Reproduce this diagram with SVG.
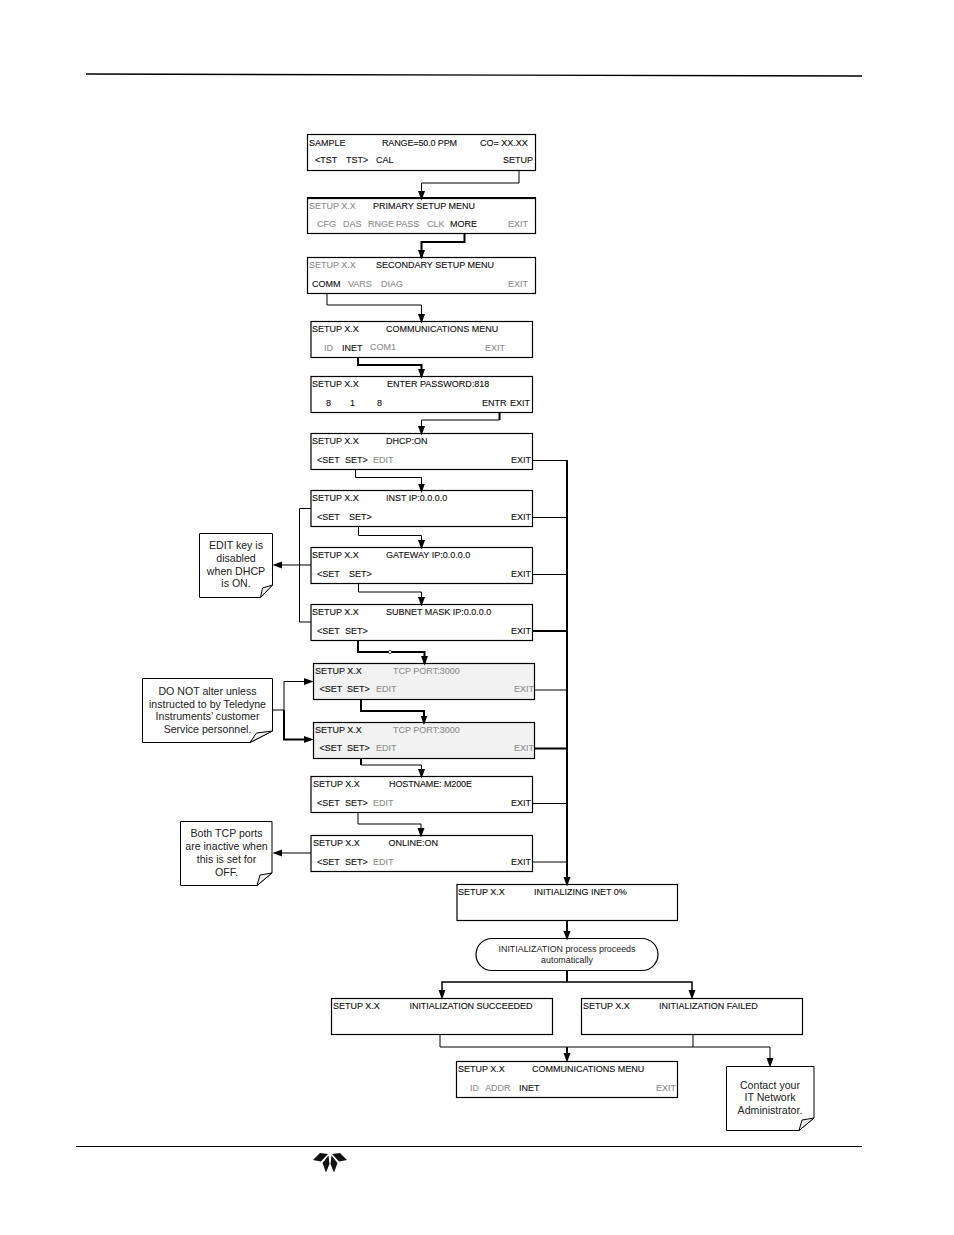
<svg xmlns="http://www.w3.org/2000/svg" width="954" height="1235" viewBox="0 0 954 1235">
<style>
text{font-family:"Liberation Sans",Arial,sans-serif;font-size:9px;fill:#111;stroke:#111;stroke-width:.12}
text.g{fill:#8f8f8f;stroke:#8f8f8f}
text.n{font-size:10.6px;text-anchor:middle;fill:#222;stroke:none}
text.p{font-size:8.9px;text-anchor:middle;fill:#222;stroke:none}
.b{fill:#fff;stroke:#000;stroke-width:1.2}
.s{fill:#f2f2f2;stroke:#000;stroke-width:1.2}
.note{fill:#fff;stroke:#000;stroke-width:1}
.fold{fill:#eee;stroke:#000;stroke-width:1}
.c{fill:none;stroke:#000;stroke-width:1}
.t{fill:none;stroke:#000;stroke-width:2}
.m{fill:none;stroke:#000;stroke-width:1.5}
</style>
<defs>
<marker id="a" markerUnits="userSpaceOnUse" markerWidth="11" markerHeight="9" refX="7" refY="3.500" orient="auto"><path d="M0 0L9.500 3.500L0 7z" fill="#000"/></marker>
</defs>
<g id="rules">
<line x1="86" y1="74" x2="862" y2="76" stroke="#000" stroke-width="1.4"/>
<line x1="76" y1="1146.500" x2="862" y2="1146.500" stroke="#000" stroke-width="1"/>
</g>
<g id="n1"><rect class="b" x="307.500" y="134.500" width="228" height="36"/><text x="309" y="146">SAMPLE</text><text x="382" y="146" textLength="75">RANGE=50.0 PPM</text><text x="480" y="146">CO= XX.XX</text><text x="315" y="163">&lt;TST</text><text x="346" y="163">TST&gt;</text><text x="376" y="163">CAL</text><text x="503" y="163">SETUP</text></g>
<g id="n2"><rect class="b" x="307.500" y="198.500" width="228" height="35"/><line x1="307" y1="198" x2="536" y2="198" stroke="#000" stroke-width="2"/><text class="g" x="309" y="209">SETUP X.X</text><text x="373" y="209">PRIMARY SETUP MENU</text><text class="g" x="317" y="227">CFG</text><text class="g" x="343" y="227">DAS</text><text class="g" x="368" y="227">RNGE</text><text class="g" x="396" y="227">PASS</text><text class="g" x="427" y="227">CLK</text><text x="450" y="227">MORE</text><text class="g" x="508" y="227">EXIT</text></g>
<g id="n3"><rect class="b" x="307.500" y="257.500" width="228" height="36"/><text class="g" x="309" y="268">SETUP X.X</text><text x="376" y="268">SECONDARY SETUP MENU</text><text x="312" y="287">COMM</text><text class="g" x="348" y="287">VARS</text><text class="g" x="381" y="287">DIAG</text><text class="g" x="508" y="287">EXIT</text></g>
<g id="n4"><rect class="b" x="311" y="321.500" width="221.500" height="36"/><text x="312" y="332">SETUP X.X</text><text x="386" y="332">COMMUNICATIONS MENU</text><text class="g" x="324" y="351">ID</text><text x="342" y="351">INET</text><text class="g" x="370" y="350">COM1</text><text class="g" x="485" y="351">EXIT</text></g>
<g id="n5"><rect class="b" x="311" y="376.500" width="221.500" height="36"/><text x="312" y="387">SETUP X.X</text><text x="387" y="387">ENTER PASSWORD:818</text><text x="326" y="406">8</text><text x="350" y="406">1</text><text x="377" y="406">8</text><text x="482" y="406">ENTR</text><text x="510" y="406">EXIT</text></g>
<g id="n6"><rect class="b" x="311" y="433.500" width="221.500" height="36"/><text x="312" y="444">SETUP X.X</text><text x="386" y="444">DHCP:ON</text><text x="317" y="463">&lt;SET</text><text x="345" y="463">SET&gt;</text><text class="g" x="373" y="463">EDIT</text><text x="511" y="463">EXIT</text></g>
<g id="n7"><rect class="b" x="311" y="490.500" width="221.500" height="36"/><text x="312" y="501">SETUP X.X</text><text x="386" y="501">INST IP:0.0.0.0</text><text x="317" y="520">&lt;SET</text><text x="349" y="520">SET&gt;</text><text x="511" y="520">EXIT</text></g>
<g id="n8"><rect class="b" x="311" y="547.500" width="221.500" height="36"/><text x="312" y="558">SETUP X.X</text><text x="386" y="558">GATEWAY IP:0.0.0.0</text><text x="317" y="577">&lt;SET</text><text x="349" y="577">SET&gt;</text><text x="511" y="577">EXIT</text></g>
<g id="n9"><rect class="b" x="311" y="604.500" width="221.500" height="36"/><text x="312" y="615">SETUP X.X</text><text x="386" y="615">SUBNET MASK IP:0.0.0.0</text><text x="317" y="634">&lt;SET</text><text x="345" y="634">SET&gt;</text><text x="511" y="634">EXIT</text></g>
<g id="n10"><rect class="s" x="313.500" y="663.500" width="221" height="36"/><text x="315" y="674">SETUP X.X</text><text class="g" x="393" y="674">TCP PORT:3000</text><text x="319.500" y="692">&lt;SET</text><text x="347" y="692">SET&gt;</text><text class="g" x="376" y="692">EDIT</text><text class="g" x="514" y="692">EXIT</text></g>
<g id="n11"><rect class="s" x="313.500" y="722.500" width="221" height="36"/><text x="315" y="733">SETUP X.X</text><text class="g" x="393" y="733">TCP PORT:3000</text><text x="319.500" y="751">&lt;SET</text><text x="347" y="751">SET&gt;</text><text class="g" x="376" y="751">EDIT</text><text class="g" x="514" y="751">EXIT</text></g>
<g id="n12"><rect class="b" x="311" y="776.500" width="221.500" height="36"/><text x="313" y="787">SETUP X.X</text><text x="389" y="787" textLength="83">HOSTNAME: M200E</text><text x="317" y="806">&lt;SET</text><text x="345" y="806">SET&gt;</text><text class="g" x="373" y="806">EDIT</text><text x="511" y="806">EXIT</text></g>
<g id="n13"><rect class="b" x="311" y="835.500" width="221.500" height="36"/><text x="313" y="846">SETUP X.X</text><text x="388.500" y="846">ONLINE:ON</text><text x="317" y="865">&lt;SET</text><text x="345" y="865">SET&gt;</text><text class="g" x="373" y="865">EDIT</text><text x="511" y="865">EXIT</text></g>
<g id="n14"><rect class="b" x="457" y="884.500" width="220.500" height="36"/><text x="458" y="895">SETUP X.X</text><text x="534" y="895">INITIALIZING INET 0%</text></g>
<g id="n15"><rect class="b" x="476" y="938.500" width="182" height="32" rx="16" ry="16"/><text class="p" x="567" y="952">INITIALIZATION process proceeds</text><text class="p" x="567" y="962.500">automatically</text></g>
<g id="n16"><rect class="b" x="331.500" y="998.500" width="221" height="36"/><text x="333" y="1009">SETUP X.X</text><text x="409.500" y="1009" textLength="123">INITIALIZATION SUCCEEDED</text></g>
<g id="n17"><rect class="b" x="581.500" y="998.500" width="221" height="36"/><text x="583" y="1009">SETUP X.X</text><text x="659" y="1009">INITIALIZATION FAILED</text></g>
<g id="n18"><rect class="b" x="456.500" y="1061.500" width="221" height="36"/><text x="458" y="1072">SETUP X.X</text><text x="532" y="1072">COMMUNICATIONS MENU</text><text class="g" x="470" y="1091">ID</text><text class="g" x="485" y="1091">ADDR</text><text x="519" y="1091">INET</text><text class="g" x="656" y="1091">EXIT</text></g>
<g id="note1"><path class="note" d="M199.500 533.500H272.500V585L260.500 597.500H199.500z"/><path class="fold" d="M272.500 585L260.500 597.500L262.500 588z"/><text class="n" x="236" y="549">EDIT key is</text><text class="n" x="236" y="562">disabled</text><text class="n" x="236" y="575">when DHCP</text><text class="n" x="236" y="587">is ON.</text></g>
<g id="note2"><path class="note" d="M142.500 678.500H272.500V731L250 742.500H142.500z"/><path class="fold" d="M272.500 731L250 742.500L256.500 733z"/><text class="n" x="207.500" y="695">DO NOT alter unless</text><text class="n" x="207.500" y="708">instructed to by Teledyne</text><text class="n" x="207.500" y="720">Instruments’ customer</text><text class="n" x="207.500" y="733">Service personnel.</text></g>
<g id="note3"><path class="note" d="M180.500 821.500H272V873L257 885.500H180.500z"/><path class="fold" d="M272 873L257 885.500L260 875z"/><text class="n" x="226.500" y="837">Both TCP ports</text><text class="n" x="226.500" y="850">are inactive when</text><text class="n" x="226.500" y="863">this is set for</text><text class="n" x="226.500" y="876">OFF.</text></g>
<g id="note4"><path class="note" d="M726.500 1066.500H814V1118L799 1130.500H726.500z"/><path class="fold" d="M814 1118L799 1130.500L802 1120z"/><text class="n" x="770" y="1089">Contact your</text><text class="n" x="770" y="1101">IT Network</text><text class="n" x="770" y="1114">Administrator.</text></g>
<g id="logo" fill="#111"><path d="M313 1160L320 1153L328 1154L321 1161.500z"/><path d="M347 1160L340 1153L332 1154L339 1161.500z"/><path d="M322.500 1163L328.500 1155.500L329.500 1164L326 1172.500z"/><path d="M337.500 1163L331.500 1155.500L330.500 1164L334 1172.500z"/></g>
<g id="connectors">
<path class="c" d="M519 170V183H421.500V198" marker-end="url(#a)"/>
<path class="t" d="M464.500 234V242H421.500V257" marker-end="url(#a)"/>
<path class="c" d="M327 293V305H421.500V321" marker-end="url(#a)"/>
<path class="t" d="M358 357V365H421.500V376" marker-end="url(#a)"/>
<path class="t" d="M499.500 412V420"/>
<path class="c" d="M499.500 420H421.500V433" marker-end="url(#a)"/>
<path class="c" d="M355.500 469V477.500H421.500V490.500" marker-end="url(#a)"/>
<path class="c" d="M358.500 526V535.500H421.500V547" marker-end="url(#a)"/>
<path class="c" d="M358.500 583V592H421.500V604" marker-end="url(#a)"/>
<path class="t" d="M358 640V652H424.500V663" marker-end="url(#a)"/>
<circle cx="390" cy="652" r="1.600" fill="#fff" stroke="#000" stroke-width="0.700"/>
<path class="t" d="M361 700V711H424V722.500" marker-end="url(#a)"/>
<path class="t" d="M361 759V765"/>
<path class="c" d="M361 765H421.500V776" marker-end="url(#a)"/>
<path class="c" d="M358 812V824H421V835" marker-end="url(#a)"/>
<path class="c" d="M532 460.500H567M532 517.500H567M532 574.500H567M534 690H567M532 803.500H567M532 862H567"/>
<path class="t" d="M532 631H567M534 748.500H567"/>
<path class="t" d="M567 460V884" marker-end="url(#a)"/>
<path class="c" d="M311 508.500H299.500V622H311"/>
<path class="c" d="M311 565H275" marker-end="url(#a)"/>
<path class="c" d="M272 710H284V681.500H311" marker-end="url(#a)"/>
<path class="t" d="M284 710V739.500H311" marker-end="url(#a)"/>
<path class="c" d="M311 853H275" marker-end="url(#a)"/>
<path class="t" d="M567 920V938" marker-end="url(#a)"/>
<path class="t" d="M567 970.500V982"/>
<path class="m" d="M567 982H442V997" marker-end="url(#a)"/>
<path class="m" d="M567 982H692V997" marker-end="url(#a)"/>
<path class="c" d="M440 1034V1047H770V1065" marker-end="url(#a)"/>
<path class="c" d="M693 1034V1047"/>
<path class="t" d="M567 1047V1060" marker-end="url(#a)"/>
</g>
</svg>
